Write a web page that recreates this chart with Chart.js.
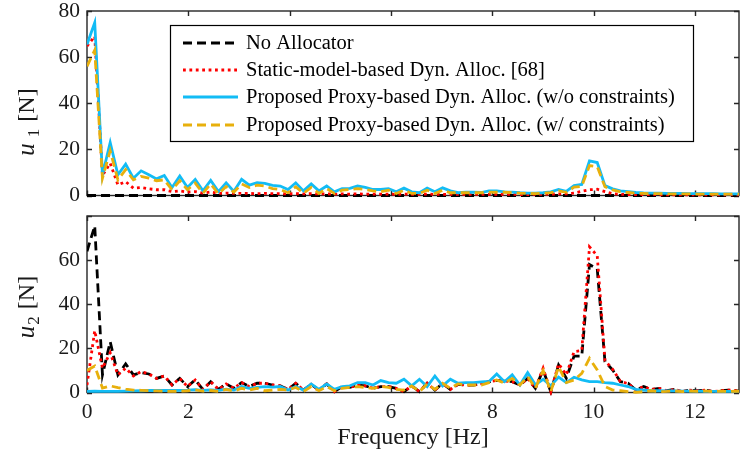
<!DOCTYPE html>
<html><head><meta charset="utf-8">
<script src="https://cdn.jsdelivr.net/npm/chart.js@4.4.1/dist/chart.umd.min.js"></script>
<style>
html,body{margin:0;padding:0;background:#fff;}
#wrap{position:relative;width:740px;height:460px;overflow:hidden;background:#fff;}
canvas{position:absolute;left:0;}
#c1{top:0;} #c2{top:205px;}
</style></head><body>
<div id="wrap"><canvas id="c1" width="740" height="205"></canvas><canvas id="c2" width="740" height="255"></canvas></div>
<script>
// frequency resolution of the spectra [Hz]
const DF = 0.1526;
const X_MAX = 12.87;
const xTickStep = 2;
const yTickStep = 20;
const legendLabels = [
  'No Allocator',
  'Static-model-based Dyn. Alloc. [68]',
  'Proposed Proxy-based Dyn. Alloc. (w/o constraints)',
  'Proposed Proxy-based Dyn. Alloc. (w/ constraints)'
];
const xTitle = 'Frequency [Hz]';

// ---- u1 spectra ----
const u1NoAlloc = [
 0,0,0,0,0,0,0,0,0,0, 0,0,0,0,0,0,0,0,0,0, 0,0,0,0,0,0,0,0,0,0, 0,0,0,0,0,0,0,0,0,0,
 0,0,0,0,0,0,0,0,0,0, 0,0,0,0,0,0,0,0,0,0, 0,0,0,0,0,0,0,0,0,0, 0,0,0,0,0,0,0,0,0,0,
 0,0,0,0,0,0];
const u1Static = [
 64.8, 69, 8.7, 14, 4.6, 6, 3.2, 3.5, 2.9, 2.5,
 2.5, 1.7, 2, 1.5, 1.7, 1.0, 1.5, 0.9, 1.0, 0.9,
 0.9, 0.9, 0.8, 0.9, 0.8, 0.8, 0.7, 0.8, 0.7, 0.8,
 0.7, 0.7, 0.6, 0.7, 0.6, 0.7, 0.6, 0.6, 0.6, 0.6,
 0.5, 0.6, 0.5, 0.5, 0.6, 0.5, 0.5, 0.5, 0.5, 0.5,
 0.5, 0.5, 0.5, 0.5, 0.5, 0.5, 0.4, 0.4, 0.5, 0.5,
 0.6, 0.7, 0.7, 1.0, 1.8, 2.5, 2.7, 1.7, 0.8, 0.5,
 0.4, 0.4, 0.4, 0.4, 0.3, 0.3, 0.3, 0.3, 0.3, 0.3,
 0.3, 0.3, 0.3, 0.3, 0.3, 0.3];
const u1ProxyNoC = [
 65.5, 75, 9, 23, 9, 13.6, 7.5, 10.7, 9, 7.2,
 8.7, 3.5, 8.5, 3.5, 7, 2, 6.5, 1.7, 5.5, 1.8,
 7, 4.5, 5.6, 5.3, 4.4, 4.1, 2.6, 5.5, 2, 5,
 2, 4.1, 1.6, 3, 3.1, 4.1, 3.5, 2.6, 2.6, 3,
 1.6, 3.2, 1.6, 1.2, 3.2, 1.6, 3.3, 2, 1.2, 1.4,
 1.4, 1.3, 2.0, 2.0, 1.6, 1.5, 1.2, 1.0, 1.0, 1.2,
 1.6, 2.6, 1.8, 4.3, 4.8, 15, 14.3, 4.3, 2.9, 2.0,
 1.7, 1.3, 1.1, 1.0, 1.0, 0.9, 0.9, 0.9, 0.8, 0.8,
 0.8, 0.8, 0.7, 0.7, 0.7, 0.7];
const u1ProxyC = [
 56, 63, 7.5, 19.4, 6.8, 11.2, 6.8, 8.3, 7.5, 6.4,
 6.8, 2.5, 6.4, 2.5, 5.4, 1.0, 5.0, 0.7, 3.9, 1.5,
 5.0, 3.5, 4.5, 4.1, 3.0, 2.6, 1.2, 3.8, 0.9, 3.5,
 0.9, 3.0, 0.9, 2.3, 2.6, 3.0, 2.6, 2.0, 1.6, 2.3,
 0.9, 2.3, 0.9, 0.9, 2.3, 0.9, 2.3, 1.2, 1.2, 1.2,
 1.2, 1.2, 1.5, 1.4, 1.4, 1.2, 1.0, 0.9, 0.8, 1.0,
 1.2, 2.0, 1.4, 3.6, 4.0, 13, 12.5, 3.8, 2.4, 1.6,
 1.3, 1.0, 0.9, 0.8, 0.8, 0.7, 0.7, 0.7, 0.7, 0.6,
 0.6, 0.6, 0.6, 0.6, 0.6, 0.6];

// ---- u2 spectra ----
const u2NoAlloc = [
 64, 75.5, 8, 23, 8, 13, 8, 9, 8.4, 6.4,
 7.5, 3.4, 6.4, 2.7, 5.7, 1.4, 4.9, 1.4, 3.9, 1.9,
 4.5, 2.7, 4.2, 4.2, 3.4, 3.0, 1.4, 4.2, 1.1, 3.7,
 1.1, 3.9, 0.4, 2.7, 2.3, 3.4, 3.0, 1.9, 2.7, 2.7,
 1.9, 0.4, 3.0, 0.4, 4.2, 1.1, 4.2, 1.4, 3.7, 3.4,
 3.4, 4.0, 4.9, 5.5, 5.2, 4.9, 3.4, 6.4, 1.9, 10.2,
 0.3, 12.5, 6.5, 16.5, 16.5, 58, 56, 14, 10.2, 4.9,
 4.2, 1.1, 2.7, 1.4, 1.9, 0.8, 1.4, 0.4, 1.1, 0.8,
 1.1, 0.4, 0.8, 1.1, 0.8, 0.6];
const u2Static = [
 3.4, 28, 11, 18, 8, 11, 7.5, 9.5, 8.4, 6.4,
 7.5, 3.4, 6.4, 2.7, 5.7, 1.4, 4.9, 1.4, 3.9, 1.9,
 4.5, 2.7, 4.2, 4.2, 3.4, 3.0, 1.4, 4.2, 1.1, 3.7,
 1.1, 3.9, 0.4, 2.7, 2.3, 3.4, 3.0, 1.9, 2.7, 2.7,
 1.9, 0.4, 3.0, 0.4, 4.2, 1.1, 4.2, 1.4, 3.7, 3.4,
 3.4, 4.0, 4.9, 5.5, 5.2, 4.9, 3.4, 6.4, 1.9, 11,
 0.3, 13, 8, 18.5, 19, 66, 62, 14.5, 10.5, 5.0,
 4.0, 1.1, 2.7, 1.4, 1.9, 0.8, 1.4, 0.4, 1.1, 0.8,
 1.1, 0.4, 0.8, 1.1, 0.8, 0.6];
const u2ProxyNoC = [
 0.5, 0.6, 0.5, 0.5, 0.5, 0.6, 0.7, 0.8, 0.9, 0.9,
 1.0, 0.9, 1.0, 1.1, 1.3, 1.0, 1.2, 1.0, 1.5, 1.1,
 2.7, 1.9, 2.3, 2.7, 2.4, 2.7, 1.1, 2.7, 1.1, 3.9,
 1.4, 3.9, 1.4, 2.7, 3.0, 4.5, 4.5, 3.4, 5.4, 4.5,
 4.2, 6.0, 3.0, 6.0, 2.7, 7.5, 3.0, 6.0, 4.2, 4.5,
 4.5, 4.8, 5.0, 8.4, 4.9, 8.0, 3.4, 9.0, 3.5, 6.0,
 3.0, 7.0, 4.5, 6.9, 5.7, 4.9, 4.9, 4.5, 4.2, 3.4,
 2.7, 1.4, 1.1, 0.8, 0.8, 0.7, 0.7, 0.6, 0.6, 0.6,
 0.5, 0.5, 0.5, 0.5, 0.5, 0.5];
const u2ProxyC = [
 10, 12, 2, 3, 2.2, 1.5, 1.1, 1.0, 0.8, 0.7,
 0.6, 0.5, 0.6, 0.8, 1.2, 0.6, 0.9, 0.5, 1.4, 0.6,
 1.9, 1.1, 1.9, 0.8, 1.1, 1.4, 1.1, 2.3, 0.4, 2.7,
 0.8, 2.7, 0.8, 1.9, 2.3, 2.7, 2.3, 1.9, 2.7, 2.3,
 1.4, 1.1, 3.0, 0.4, 3.9, 1.4, 4.2, 1.9, 3.9, 3.4,
 3.4, 3.4, 4.5, 5.7, 4.2, 6.4, 3.4, 7.2, 1.9, 10,
 0.4, 11.7, 4.5, 5.7, 8.7, 15.5, 10.2, 2.7, 1.1, 0.8,
 0.4, 0.1, 0.4, 0.8, 0.4, 0.5, 0.7, 0.4, 0.6, 0.5,
 0.7, 0.4, 0.6, 0.5, 0.6, 0.5];

const SERIF = '"Liberation Serif", "Times New Roman", serif';
const styles = [
  {color: '#000000', dash: [9, 5], order: 3},
  {color: '#ff0000', dash: [2.8, 3.6], order: 2},
  {color: '#12bcf5', dash: [], order: 1},
  {color: '#e8b00c', dash: [9, 5], order: 0}
];

const frame = {
  id: 'frame',
  beforeDatasetsDraw(chart) {
    const {ctx, chartArea: a, scales: {x, y}} = chart;
    ctx.save();
    ctx.strokeStyle = '#262626'; ctx.lineWidth = 1.4;
    ctx.strokeRect(a.left, a.top, a.right - a.left, a.bottom - a.top);
    const L = 5;
    ctx.beginPath();
    x.ticks.forEach(t => {
      if (t.value < x.min || t.value > x.max) return;
      const px = Math.round(x.getPixelForValue(t.value)) + 0.5;
      ctx.moveTo(px, a.bottom); ctx.lineTo(px, a.bottom - L);
      ctx.moveTo(px, a.top); ctx.lineTo(px, a.top + L);
    });
    y.ticks.forEach(t => {
      const py = Math.round(y.getPixelForValue(t.value)) + 0.5;
      ctx.moveTo(a.left, py); ctx.lineTo(a.left + L, py);
      ctx.moveTo(a.right, py); ctx.lineTo(a.right - L, py);
    });
    ctx.stroke();
    ctx.restore();
  }
};

const legendBox = {
  id: 'legendBox',
  afterDatasetsDraw(chart) {
    const ctx = chart.ctx;
    ctx.save();
    ctx.fillStyle = '#fff'; ctx.fillRect(170, 25, 523, 116);
    ctx.strokeStyle = '#000'; ctx.lineWidth = 1.2; ctx.strokeRect(170.5, 25.5, 523, 116);
    const rows = [43, 70, 97, 125];
    chart.data.datasets.forEach((ds, i) => {
      const yy = rows[i];
      ctx.beginPath(); ctx.setLineDash(ds.borderDash || []);
      ctx.strokeStyle = ds.borderColor; ctx.lineWidth = ds.borderWidth;
      ctx.moveTo(183, yy); ctx.lineTo(238, yy); ctx.stroke();
      ctx.setLineDash([]);
      ctx.fillStyle = '#000'; ctx.font = '20.5px ' + SERIF; ctx.textBaseline = 'middle';
      ctx.fillText(ds.label, 246, yy + 1);
    });
    ctx.restore();
  }
};

function yTitlePlugin(sub, cx, cy, gap) {
  return {
    id: 'ytitle',
    afterDraw(chart) {
      const ctx = chart.ctx;
      ctx.save();
      ctx.translate(cx, cy); ctx.rotate(-Math.PI / 2);
      const ital = 'italic 25px ' + SERIF, big = '24px ' + SERIF, small = '17px ' + SERIF;
      ctx.font = ital; const wu = ctx.measureText('u').width;
      ctx.font = small; const ws = ctx.measureText(sub).width;
      ctx.font = big; const wn = ctx.measureText(' [N]').width;
      let x0 = -(wu + ws + wn + gap + 1) / 2;
      ctx.fillStyle = '#1a1a1a'; ctx.textBaseline = 'alphabetic';
      ctx.font = ital; ctx.fillText('u', x0, 8); x0 += wu + gap;
      ctx.font = small; ctx.fillText(sub, x0, 13); x0 += ws + 1;
      ctx.font = big; ctx.fillText(' [N]', x0, 8);
      ctx.restore();
    }
  };
}

const xTitlePlugin = {
  id: 'xtitle',
  afterDraw(chart) {
    const {ctx, chartArea: a} = chart;
    ctx.save();
    ctx.fillStyle = '#1a1a1a'; ctx.font = '24px ' + SERIF;
    ctx.textAlign = 'center'; ctx.textBaseline = 'middle';
    ctx.fillText(xTitle, (a.left + a.right) / 2, 233);
    ctx.restore();
  }
};

function makeChart(id, series, cfg) {
  const datasets = series.map((vals, i) => ({
    label: legendLabels[i],
    data: vals.map((v, k) => ({x: k * DF, y: v})),
    borderColor: styles[i].color,
    borderWidth: 2.8,
    borderDash: styles[i].dash,
    order: styles[i].order,
    pointRadius: 0, fill: false, tension: 0,
    clip: {left: 0, top: 0, right: 0, bottom: 3}
  }));
  const tickFont = {family: SERIF, size: 21.5};
  return new Chart(document.getElementById(id), {
    type: 'line',
    data: {datasets},
    plugins: cfg.plugins,
    options: {
      responsive: false, animation: false, devicePixelRatio: 1,
      layout: {padding: {top: cfg.padTop, right: 1, left: 0, bottom: 0}},
      plugins: {legend: {display: false}, tooltip: {enabled: false}},
      scales: {
        x: {
          type: 'linear', min: 0, max: X_MAX,
          grid: {display: false, drawTicks: false}, border: {display: false},
          ticks: {display: cfg.showX, stepSize: xTickStep, includeBounds: false, padding: 7,
                  color: '#1a1a1a', font: tickFont, maxRotation: 0, autoSkip: false},
          afterFit: s => { s.height = cfg.xH; s.paddingLeft = 0; s.paddingRight = 0; }
        },
        y: {
          min: 0, max: 80,
          grid: {display: false, drawTicks: false}, border: {display: false},
          ticks: {stepSize: yTickStep, padding: 7, color: '#1a1a1a', font: tickFont,
                  callback: v => (v > cfg.yLabelMax ? '' : v)},
          afterFit: s => { s.width = 87; s.paddingTop = 0; s.paddingBottom = 0; }
        }
      }
    }
  });
}

makeChart('c1', [u1NoAlloc, u1Static, u1ProxyNoC, u1ProxyC],
  {padTop: 11, xH: 9.5, showX: false, yLabelMax: 80, plugins: [frame, legendBox, yTitlePlugin('1', 26, 122, 6)]});
makeChart('c2', [u2NoAlloc, u2Static, u2ProxyNoC, u2ProxyC],
  {padTop: 11, xH: 67.5, showX: true, yLabelMax: 60, plugins: [frame, yTitlePlugin('2', 26, 102, 1), xTitlePlugin]});
</script>
</body></html>
